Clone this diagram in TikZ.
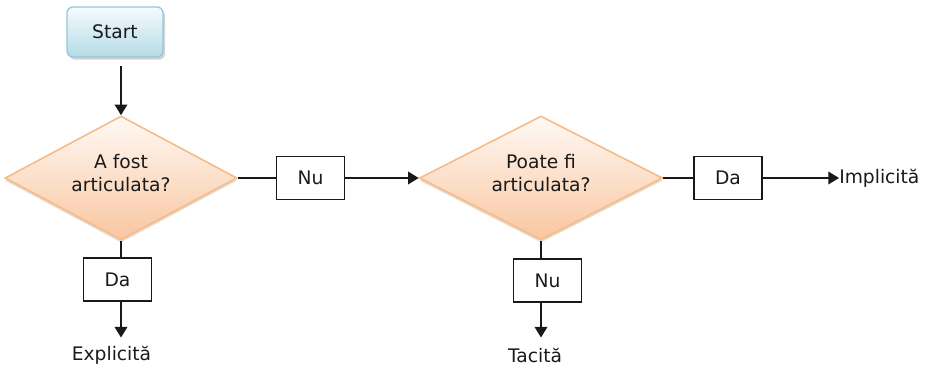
\documentclass[tikz,border=0pt]{standalone}
\usepackage{fontspec}
\setmainfont{DejaVu Sans}
\usetikzlibrary{shapes.geometric,arrows.meta,shadows}

\definecolor{ink}{HTML}{1A1A1A}
\definecolor{startTop}{HTML}{F6FBFD}
\definecolor{startBottom}{HTML}{B4DBE6}
\definecolor{startEdge}{HTML}{93C8D8}
\definecolor{decTop}{HTML}{FFF9F4}
\definecolor{decBottom}{HTML}{F9C6A0}
\definecolor{decEdge}{HTML}{F7BB88}

\begin{document}
\begin{tikzpicture}[x=0.75pt,y=-0.75pt,
  every node/.style={font=\fontsize{14}{17.25}\selectfont, text=ink},
  startbox/.style={rectangle, rounded corners=4.5pt, draw=startEdge, line width=1pt,
    top color=startTop, bottom color=startBottom,
    minimum width=72pt, minimum height=37.5pt,
    drop shadow={shadow xshift=1.5pt, shadow yshift=-2pt, opacity=0.35}},
  decision/.style={diamond, shape aspect=2, draw=decEdge, line width=1.2pt,
    top color=decTop, bottom color=decBottom, align=center, inner sep=0pt,
    minimum height=93pt,
    drop shadow={shadow xshift=0pt, shadow yshift=-2pt, fill=decEdge!70!black, opacity=0.3}},
  answer/.style={rectangle, draw=black!90, line width=0.8pt, fill=white,
    minimum width=51pt, minimum height=32.25pt, inner sep=0pt},
  outcome/.style={inner sep=0pt},
  link/.style={draw=black!90, line width=1.1pt},
  flow/.style={link, -{Triangle[length=8pt,width=9.5pt]}}
]
\useasboundingbox (0,0) rectangle (927,366);

% start and decisions (the short trailing line lifts the question text a little)
\node[startbox] (start) at (115,32) {Start};
\node[decision, minimum width=174pt] (q1) at (121,178) {A fost\\articulata?\\[-9pt]};
\node[decision, minimum width=182.25pt] (q2) at (541,178) {Poate fi\\articulata?\\[-9pt]};

% answer labels
\node[answer] (no1) at (310.5,178) {Nu};
\node[answer] (yes2) at (728,178) {Da};
\node[answer] (yes1) at (117.5,279.5) {Da};
\node[answer] (no2) at (547.5,280.5) {Nu};

% outcomes
\node[outcome, anchor=west] (impl) at (839,178) {Implicită};
\node[outcome] (expl) at (111.5,355) {Explicită};
\node[outcome] (tac) at (535,355) {Tacită};

% connectors
\draw[flow, shorten <=6pt] (q1.north |- start.south) -- (q1.north);
\draw[link] (q1.east) -- (no1.west);
\draw[flow] (no1.east) -- (q2.west);
\draw[link] (q2.east) -- (yes2.west);
\draw[flow] (yes2.east) -- (impl.west);
\draw[link] (q1.south) -- (q1.south |- yes1.north);
\draw[flow] (q1.south |- yes1.south) -- ++(0,36);
\draw[link] (q2.south) -- (q2.south |- no2.north);
\draw[flow] (q2.south |- no2.south) -- ++(0,35);
\end{tikzpicture}
\end{document}
